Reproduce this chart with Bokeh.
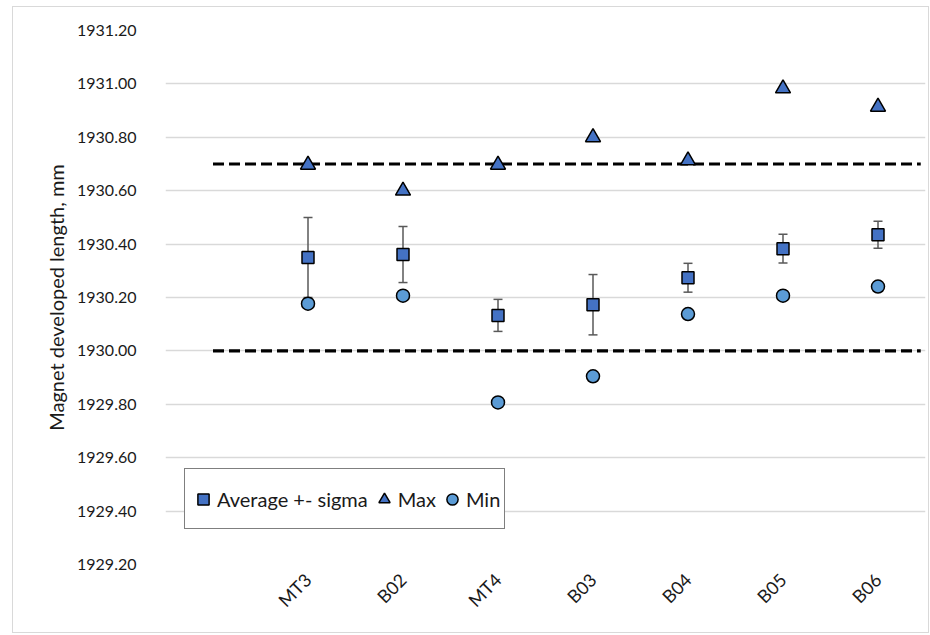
from math import pi

from bokeh.embed import file_html
from bokeh.models import (ColumnDataSource, FixedTicker, Legend, LegendItem,
                          NumeralTickFormatter, Range1d)
from bokeh.plotting import figure
from bokeh.resources import INLINE

# Magnet batches along the horizontal axis
batches = ["MT3", "B02", "MT4", "B03", "B04", "B05", "B06"]

# Developed length per batch, mm
avg_length = [1930.350, 1930.361, 1930.133, 1930.173, 1930.274, 1930.383, 1930.435]
sigma_length = [0.150, 0.105, 0.060, 0.113, 0.054, 0.054, 0.051]
max_length = [1930.697, 1930.600, 1930.697, 1930.800, 1930.713, 1930.983, 1930.914]
min_length = [1930.177, 1930.207, 1929.807, 1929.905, 1930.138, 1930.207, 1930.241]

# Tolerance band
upper_limit = 1930.70
lower_limit = 1930.00

# Value-axis ticks
y_ticks = [1929.20, 1929.40, 1929.60, 1929.80, 1930.00, 1930.20,
           1930.40, 1930.60, 1930.80, 1931.00, 1931.20]

# Category slots: slot 1 is left empty, batches occupy slots 2..8
slots = [i + 2 for i in range(len(batches))]

src = ColumnDataSource(dict(
    x=slots,
    avg=avg_length,
    lo=[a - s for a, s in zip(avg_length, sigma_length)],
    hi=[a + s for a, s in zip(avg_length, sigma_length)],
    mx=max_length,
    mn=min_length,
))

FONT = "Lato"
TEXT = "#1a1a1a"
BLUE = "#4472C4"
LIGHT_BLUE = "#5B9BD5"

p = figure(
    width=917, height=627,
    x_range=Range1d(0.5, len(slots) + 1.5),
    y_range=Range1d(y_ticks[0], y_ticks[-1]),
    output_backend="svg", toolbar_location=None,
    min_border_left=152, min_border_right=5,
    min_border_top=23, min_border_bottom=70,
)
p.margin = (6, 0, 0, 12)
p.styles = {"border": "1px solid #d9d9d9"}
p.outline_line_color = None
p.background_fill_color = "white"
p.border_fill_color = "white"

# Tolerance lines
band_x = [1, len(slots) + 1.45]
p.line(band_x, [upper_limit, upper_limit], line_color="black",
       line_width=3.2, line_dash="11 5")
p.line(band_x, [lower_limit, lower_limit], line_color="black",
       line_width=3.2, line_dash="11 5")

# +- sigma error bars
p.segment(x0="x", y0="lo", x1="x", y1="hi", source=src,
          line_color="#595959", line_width=1.5)
p.scatter("x", "hi", source=src, marker="dash", size=9,
          line_color="#595959", line_width=1.5)
p.scatter("x", "lo", source=src, marker="dash", size=9,
          line_color="#595959", line_width=1.5)

# Series markers
r_avg = p.scatter("x", "avg", source=src, marker="square", size=12,
                  fill_color=BLUE, line_color="black", line_width=1.5)
r_max = p.scatter("x", "mx", source=src, marker="triangle", size=15,
                  fill_color=BLUE, line_color="black", line_width=1.5)
r_min = p.scatter("x", "mn", source=src, marker="circle", size=13,
                  fill_color=LIGHT_BLUE, line_color="black", line_width=1.5)

# Value axis
ya = p.yaxis[0]
ya.ticker = FixedTicker(ticks=y_ticks)
ya.formatter = NumeralTickFormatter(format="0.00")
ya.axis_label = "Magnet developed length, mm"
ya.axis_label_text_font = FONT
ya.axis_label_text_font_size = "20px"
ya.axis_label_text_font_style = "normal"
ya.axis_label_text_color = TEXT
ya.axis_label_standoff = 6
ya.major_label_text_font = FONT
ya.major_label_text_font_size = "16px"
ya.major_label_text_color = TEXT
ya.major_label_standoff = 23
ya.axis_line_color = None
ya.major_tick_line_color = None
ya.minor_tick_line_color = None

# Category axis
xa = p.xaxis[0]
xa.ticker = FixedTicker(ticks=slots)
xa.major_label_overrides = {s: b for s, b in zip(slots, batches)}
xa.major_label_orientation = pi / 4
xa.major_label_text_font = FONT
xa.major_label_text_font_size = "18px"
xa.major_label_text_color = TEXT
xa.major_label_standoff = 6
xa.axis_line_color = None
xa.major_tick_line_color = None
xa.minor_tick_line_color = None

p.xgrid.grid_line_color = None
p.ygrid.grid_line_color = "#d9d9d9"
p.ygrid.grid_line_width = 1.3

legend = Legend(
    items=[
        LegendItem(label="Average +- sigma", renderers=[r_avg]),
        LegendItem(label="Max", renderers=[r_max]),
        LegendItem(label="Min", renderers=[r_min]),
    ],
    orientation="horizontal",
    location=(19, 35),
    border_line_color="black", border_line_width=1.2,
    background_fill_color="white", background_fill_alpha=1.0,
    label_text_font=FONT, label_text_font_size="20px", label_text_color=TEXT,
    padding=4, spacing=2, margin=0,
    glyph_width=28, glyph_height=28, label_standoff=0, label_height=51,
)
p.add_layout(legend)

open("out.html", "w").write(file_html(p, INLINE))
